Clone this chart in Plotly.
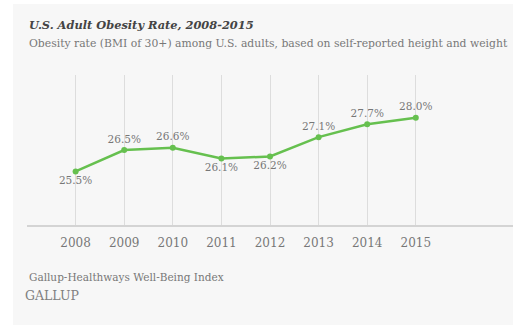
import plotly.graph_objects as go

# Obesity rate by year (percent)
years = [2008, 2009, 2010, 2011, 2012, 2013, 2014, 2015]
rates = [25.5, 26.5, 26.6, 26.1, 26.2, 27.1, 27.7, 28.0]
label_side = ["bottom", "top", "top", "bottom", "bottom", "top", "top", "top"]
year_labels = [str(y) for y in years]

W, H = 513, 325
ML, MR, MT, MB = 27, 0, 75, 100
PW, PH = W - ML - MR, H - MT - MB

def px_x(px):
    return (px - ML) / PW

def px_y(py):
    return (H - MB - py) / PH

SERIF = "DejaVu Serif"
PANEL = "#f7f7f7"
GREEN = "#66c04f"

fig = go.Figure()
fig.add_trace(go.Scatter(
    x=years,
    y=rates,
    mode="lines+markers+text",
    line=dict(color=GREEN, width=2.5),
    marker=dict(color=GREEN, size=6),
    text=[f"{v:.1f}%" for v in rates],
    textposition=[f"{s} center" for s in label_side],
    textfont=dict(family=SERIF, size=10.5, color="#777777"),
    hoverinfo="skip",
    cliponaxis=False,
))

fig.update_layout(
    width=W,
    height=H,
    margin=dict(l=ML, r=MR, t=MT, b=MB, pad=0),
    paper_bgcolor="white",
    plot_bgcolor=PANEL,
    showlegend=False,
    xaxis=dict(
        range=[2007, 2017],
        tickmode="array",
        tickvals=years,
        ticktext=year_labels,
        showgrid=True,
        gridcolor="#dddddd",
        gridwidth=1,
        zeroline=False,
        showline=True,
        linecolor="#d4d4d4",
        linewidth=2,
        ticks="outside",
        ticklen=6,
        tickcolor="rgba(0,0,0,0)",
        tickfont=dict(family=SERIF, size=12, color="#777777"),
        fixedrange=True,
    ),
    yaxis=dict(
        range=[23, 30],
        showgrid=False,
        zeroline=False,
        showticklabels=False,
        fixedrange=True,
    ),
    shapes=[
        dict(
            type="rect", xref="paper", yref="paper", layer="below",
            x0=px_x(13), x1=px_x(W), y0=px_y(H), y1=px_y(4),
            fillcolor=PANEL, line=dict(width=0),
        )
    ],
    annotations=[
        dict(
            text="<b><i>U.S. Adult Obesity Rate, 2008-2015</i></b>",
            xref="paper", yref="paper", x=px_x(27), y=px_y(25),
            xanchor="left", yanchor="middle", showarrow=False,
            font=dict(family=SERIF, size=11.4, color="#444444"),
        ),
        dict(
            text="Obesity rate (BMI of 30+) among U.S. adults, based on self-reported height and weight",
            xref="paper", yref="paper", x=px_x(27), y=px_y(44),
            xanchor="left", yanchor="middle", showarrow=False,
            font=dict(family=SERIF, size=10.8, color="#777777"),
        ),
        dict(
            text="Gallup-Healthways Well-Being Index",
            xref="paper", yref="paper", x=px_x(27), y=px_y(277),
            xanchor="left", yanchor="middle", showarrow=False,
            font=dict(family=SERIF, size=10.5, color="#777777"),
        ),
        dict(
            text="GALLUP",
            xref="paper", yref="paper", x=px_x(23), y=px_y(295),
            xanchor="left", yanchor="middle", showarrow=False,
            font=dict(family=SERIF, size=12.5, color="#808080"),
        ),
    ],
)

fig.write_html("out.html")
